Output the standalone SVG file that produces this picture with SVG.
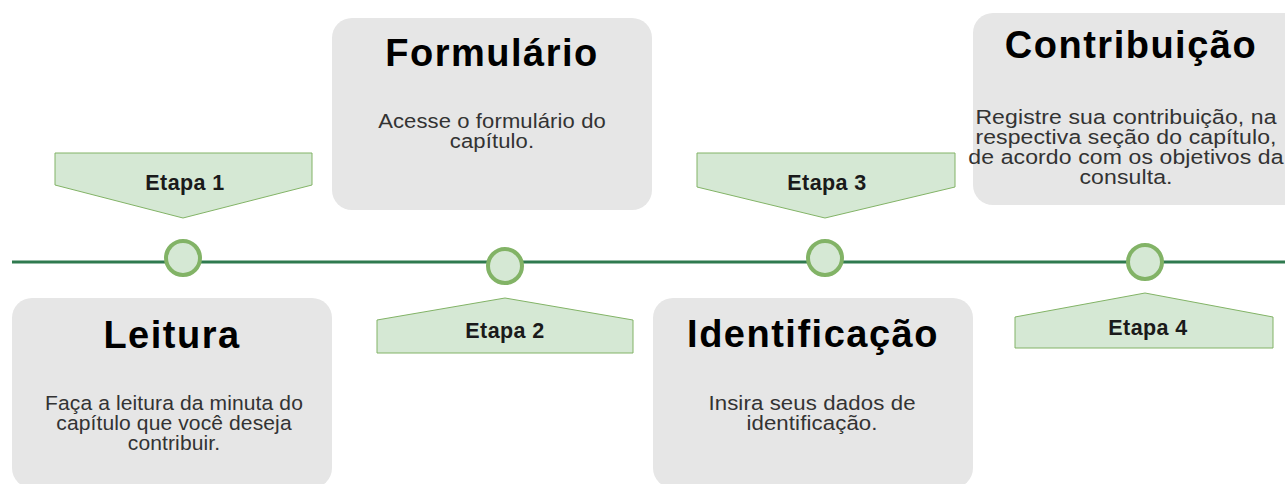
<svg xmlns="http://www.w3.org/2000/svg" width="1285" height="484" viewBox="0 0 1285 484">
<style>
.box{fill:#e6e6e6;stroke:none}
.title{font-family:"Liberation Sans",Arial,sans-serif;font-weight:bold;font-size:38px;letter-spacing:1.5px;fill:#000;text-anchor:middle}
.body{font-family:"Liberation Sans",Arial,sans-serif;font-size:19.5px;letter-spacing:0.1px;fill:#333;text-anchor:middle}
.tag{fill:#d5e8d4;stroke:#82b366;stroke-width:1}
.tagtxt{font-family:"Liberation Sans",Arial,sans-serif;font-weight:bold;font-size:21.5px;letter-spacing:0.4px;fill:#1a1a1a;text-anchor:middle}
.dot{fill:#d5e8d4;stroke:#82b366;stroke-width:4}
.line{stroke:#2f7a4f;stroke-width:3;fill:none}
</style>
<g id="connectors">
<line class="line" x1="12" y1="262" x2="1285" y2="262"/>
</g>
<g id="leitura">
<rect class="box" x="12" y="298" width="320" height="190" rx="20"/>
<text class="title" x="172" y="348">Leitura</text>
<g transform="translate(174 0) scale(1.08 1)">
<text class="body" x="0" y="410">Faça a leitura da minuta do</text>
<text class="body" x="0" y="430">capítulo que você deseja</text>
<text class="body" x="0" y="450">contribuir.</text>
</g>
</g>
<g id="formulario">
<rect class="box" x="332" y="18" width="320" height="192" rx="20"/>
<text class="title" x="492" y="66">Formulário</text>
<g transform="translate(492 0) scale(1.13 1)">
<text class="body" x="0" y="128">Acesse o formulário do</text>
<text class="body" x="0" y="148">capítulo.</text>
</g>
</g>
<g id="identificacao">
<rect class="box" x="653" y="298" width="320" height="190" rx="20"/>
<text class="title" x="813" y="347">Identificação</text>
<g transform="translate(812 0) scale(1.14 1)">
<text class="body" x="0" y="410">Insira seus dados de</text>
<text class="body" x="0" y="430">identificação.</text>
</g>
</g>
<g id="contribuicao">
<rect class="box" x="973" y="13" width="330" height="192" rx="20"/>
<text class="title" x="1131" y="58">Contribuição</text>
<g transform="translate(1126 0) scale(1.18 1)">
<text class="body" x="0" y="124">Registre sua contribuição, na</text>
<text class="body" x="0" y="144">respectiva seção do capítulo,</text>
<text class="body" x="0" y="164">de acordo com os objetivos da</text>
<text class="body" x="0" y="184">consulta.</text>
</g>
</g>
<g id="etapa1">
<polygon class="tag" points="55,153 312,153 312,185 183,218 55,185"/>
<text class="tagtxt" x="185" y="190">Etapa 1</text>
<circle class="dot" cx="183" cy="258" r="17"/>
</g>
<g id="etapa2">
<polygon class="tag" points="377,320 505,298 633,320 633,353 377,353"/>
<text class="tagtxt" x="505" y="338">Etapa 2</text>
<circle class="dot" cx="505" cy="266" r="17"/>
</g>
<g id="etapa3">
<polygon class="tag" points="697,153 955,153 955,187 825,218 697,187"/>
<text class="tagtxt" x="827" y="190">Etapa 3</text>
<circle class="dot" cx="825" cy="258" r="17"/>
</g>
<g id="etapa4">
<polygon class="tag" points="1015,317 1145,293 1273,317 1273,348 1015,348"/>
<text class="tagtxt" x="1148" y="335">Etapa 4</text>
<circle class="dot" cx="1145" cy="262" r="17"/>
</g>
</svg>
